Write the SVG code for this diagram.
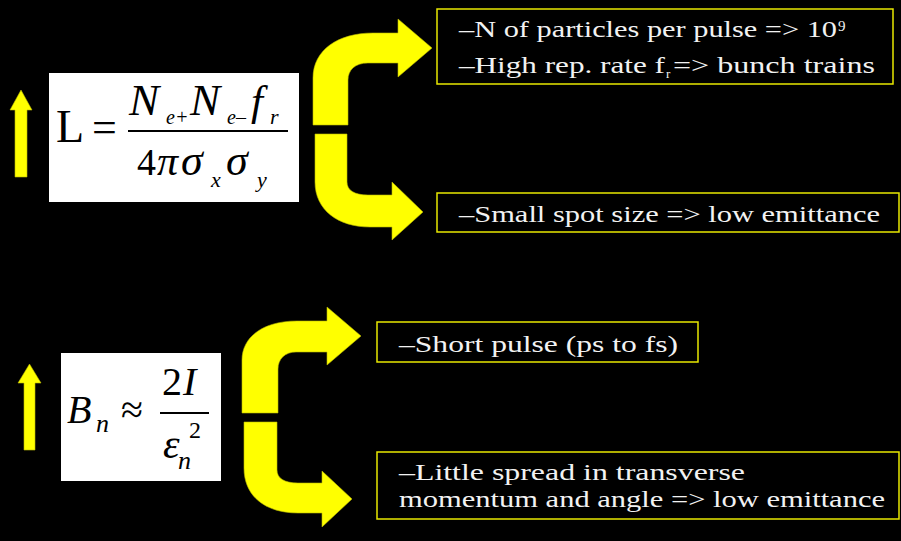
<svg xmlns="http://www.w3.org/2000/svg" width="901" height="541" viewBox="0 0 901 541">
<style>
.arrow{fill:#ffff00;stroke:#b8b800;stroke-width:0.6}
.box{fill:none;stroke:#e8e800;stroke-width:1.5}
.wb{fill:#ffffff}
.t{font-family:"Liberation Serif","Times New Roman",serif;font-size:24px;fill:#f2f2f2}
.ts{font-family:"Liberation Serif","Times New Roman",serif;fill:#f2f2f2}
.m{font-family:"Liberation Serif","Times New Roman",serif;fill:#000}
.i{font-style:italic}
.n{font-style:normal}
</style>
<rect x="0" y="0" width="901" height="541" fill="#000"/>

<g id="up1">
<path class="arrow" d="M15,177 L15,110 L10,110 L21,90 L32,110 L27,110 L27,177 Z"/>
</g>
<g id="formula1">
<rect class="wb" x="49" y="73" width="250" height="129"/>
<text class="m" x="56" y="142" font-size="46">L</text>
<text class="m" x="92" y="142" font-size="44">=</text>
<text class="m i"><tspan x="129" y="115" font-size="45">N</tspan><tspan x="166" y="124" font-size="20">e+</tspan><tspan x="190" y="115" font-size="45">N</tspan><tspan x="227" y="124" font-size="20">e–</tspan><tspan x="251" y="115" font-size="43">f</tspan><tspan x="270" y="124" font-size="22">r</tspan></text>
<line x1="128" y1="131" x2="288" y2="131" stroke="#000" stroke-width="2"/>
<text class="m i"><tspan class="n" x="137" y="175" font-size="38">4</tspan><tspan x="157" y="175" font-size="42">π</tspan><tspan x="181" y="175" font-size="44">σ</tspan><tspan x="211" y="187" font-size="22">x</tspan><tspan x="226" y="175" font-size="44">σ</tspan><tspan x="257" y="187" font-size="22">y</tspan></text>
</g>

<g id="up2">
<path class="arrow" d="M24,450 L24,383 L18,383 L29.5,364 L41,383 L35,383 L35,450 Z"/>
</g>
<g id="formula2">
<rect class="wb" x="61" y="353" width="160" height="128"/>
<text class="m i"><tspan x="67" y="423" font-size="40">B</tspan><tspan x="96" y="432" font-size="26">n</tspan></text>
<text class="m" x="121" y="423" font-size="40">≈</text>
<text class="m"><tspan x="162" y="395" font-size="40">2</tspan><tspan class="i" x="183" y="395" font-size="40">I</tspan></text>
<line x1="160" y1="413" x2="209" y2="413" stroke="#000" stroke-width="2"/>
<text class="m"><tspan class="i" x="163" y="458" font-size="42">ε</tspan><tspan x="189" y="438" font-size="24">2</tspan><tspan class="i" x="178" y="469" font-size="26">n</tspan></text>
</g>

<g id="box1">
<rect class="box" x="437" y="9" width="456" height="75"/>
<text class="t" x="459" y="37" textLength="378" lengthAdjust="spacingAndGlyphs">–N of particles per pulse =&gt; 10</text>
<text class="ts" x="838" y="31" font-size="15">9</text>
<text class="t" x="459" y="73" textLength="206" lengthAdjust="spacingAndGlyphs">–High rep. rate f</text>
<text class="ts" x="666" y="78" font-size="13">r</text>
<text class="t" x="673" y="73" textLength="202" lengthAdjust="spacingAndGlyphs">=&gt;  bunch trains</text>
</g>
<g id="box2">
<rect class="box" x="437" y="193" width="462" height="39"/>
<text class="t" x="459" y="222" textLength="421" lengthAdjust="spacingAndGlyphs">–Small spot size =&gt; low emittance</text>
</g>
<g id="box3">
<rect class="box" x="377" y="322" width="321" height="40"/>
<text class="t" x="399" y="352" textLength="279" lengthAdjust="spacingAndGlyphs">–Short pulse (ps to fs)</text>
</g>
<g id="box4">
<rect class="box" x="377" y="452" width="522" height="67"/>
<text class="t" x="399" y="480" textLength="346" lengthAdjust="spacingAndGlyphs">–Little spread in transverse</text>
<text class="t" x="399" y="507" textLength="486" lengthAdjust="spacingAndGlyphs">momentum and angle =&gt; low emittance</text>
</g>

<g id="connectors">
<path class="arrow" d="M313,125 L313,78 C313,50 338,33 373,33 L398,33 L398,19 L432,48 L398,77 L398,63 L368,63 C355,63 348,70 348,80 L348,125 Z"/>
<path class="arrow" d="M315,134 L347,134 L347,182 C347,190 354,195 368,195 L392,195 L392,182 L423,212 L392,240 L392,227 L370,227 C338,227 315,210 315,182 Z"/>
<path class="arrow" d="M242,413 L242,360 C242,337 263,321 297,321 L327,321 L327,307 L361,336 L327,365 L327,352 L296,352 C285,352 278,359 278,369 L278,413 Z"/>
<path class="arrow" d="M244,422 L277,422 L277,470 C277,478 284,483 298,483 L322,483 L322,471 L352,499 L322,527 L322,513 L298,513 C265,513 244,496 244,468 Z"/>
</g>
</svg>
